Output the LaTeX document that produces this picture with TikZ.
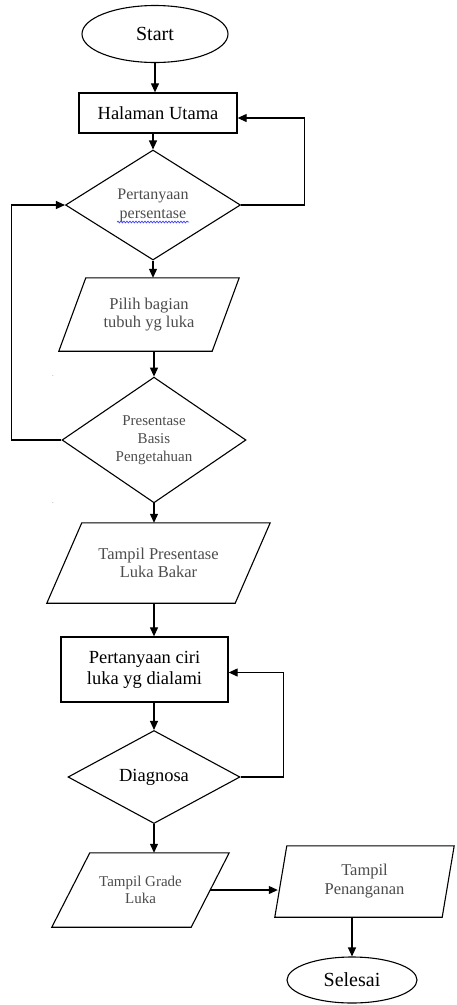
\documentclass[tikz,border=0pt]{standalone}
\usepackage{fontspec}
\setmainfont{Liberation Serif}
\usepackage{tikz}
\usetikzlibrary{shapes.geometric,arrows.meta,calc,decorations.pathmorphing}

% slanted outline round an io node: node name, half slant
\newcommand{\ioshape}[2]{%
  \draw[ioline] ([xshift=#2]#1.north west) -- ([xshift=#2]#1.north east)
    -- ([xshift=-#2]#1.south east) -- ([xshift=-#2]#1.south west) -- cycle;}

\begin{document}
\begin{tikzpicture}[
    x=1pt, y=-1pt,
    terminal/.style={ellipse, draw=black, line width=1.1pt, inner sep=0pt, font=\fontsize{20}{22}\selectfont},
    procbox/.style={rectangle, draw=black, line width=1.3pt, align=center, inner sep=0pt, font=\fontsize{18.5}{21}\selectfont},
    decision/.style={diamond, draw=black, line width=1.1pt, align=center, inner sep=0pt, font=\fontsize{15}{18}\selectfont, text=black!70},
    iobox/.style={rectangle, align=center, inner sep=0pt, font=\fontsize{16}{18}\selectfont, text=black!70},
    ioline/.style={draw=black, line width=1.1pt},
    arr/.style={-{Triangle[length=9pt, width=8pt]}, line width=1.1pt},
  ]
    \useasboundingbox (0,0) rectangle (456,1005);

    % --- main column ---
    \node[terminal, minimum width=146pt, minimum height=57pt] (start) at (155,34) {Start};
    \node[procbox, minimum width=158pt, minimum height=40pt] (halaman) at (158,113) {Halaman Utama};
    \node[decision, minimum width=175pt, minimum height=110pt, font=\fontsize{16}{19}\selectfont] (d1) at (153,205) {Pertanyaan\\persentase};
    \node[iobox, minimum width=153pt, minimum height=73pt, font=\fontsize{16.5}{18}\selectfont] (pilih) at (149,314.5) {Pilih bagian\\tubuh yg luka};
    \node[decision, minimum width=184pt, minimum height=125pt] (d2) at (154,440) {Presentase\\Basis\\Pengetahuan};
    \node[iobox, minimum width=188pt, minimum height=80pt, font=\fontsize{16.5}{18}\selectfont] (tampilpres) at (158.5,563) {Tampil Presentase\\Luka Bakar};
    \node[procbox, minimum width=167pt, minimum height=65pt] (ciri) at (144.5,669.5) {Pertanyaan ciri\\luka yg dialami};
    \node[decision, minimum width=172pt, minimum height=93pt, font=\fontsize{18.5}{21}\selectfont, text=black] (d3) at (154,777) {Diagnosa};
    \node[iobox, minimum width=139pt, minimum height=74pt, font=\fontsize{15}{17}\selectfont] (grade) at (140.5,890) {Tampil Grade\\Luka};

    % --- right branch ---
    \node[iobox, minimum width=167pt, minimum height=71pt, font=\fontsize{16.5}{19}\selectfont] (penanganan) at (364.5,881.5) {Tampil\\Penanganan};
    \node[terminal, minimum width=130pt, minimum height=46pt] (selesai) at (352,980) {Selesai};

    \ioshape{pilih}{13.5pt}
    \ioshape{tampilpres}{17.5pt}
    \ioshape{grade}{19pt}
    \ioshape{penanganan}{6pt}

    % stray dots
    \node[font=\tiny] (dotA) at (53,376) {.};
    \node[font=\tiny] (dotB) at (53,503) {.};

    % spell-check underline
    \draw[blue!75, line width=0.7pt, decorate, decoration={snake, amplitude=0.9pt, segment length=3pt}]
      ($(d1)+(-36,17)$) -- ($(d1)+(36,17)$);

    % --- arrows ---
    \draw[arr] (start) -- (start |- halaman.north);
    \draw[arr] (d1.north |- halaman.south) -- (d1.north);
    \draw[arr] (d1.south) -- (d1.south |- pilih.north);
    \draw[arr] (d2.north |- pilih.south) -- (d2.north);
    \draw[arr] (d2.south) -- (d2.south |- tampilpres.north);
    \draw[arr] (d2.south |- tampilpres.south) -- (d2.south |- ciri.north);
    \draw[arr] (d3.north |- ciri.south) -- (d3.north);
    \draw[arr] (d3.south) -- (d3.south |- grade.north);
    \draw[arr] (grade.east) -- ([xshift=-3pt]grade.east -| penanganan.west);
    \draw[arr] (selesai.north |- penanganan.south) -- (selesai.north);

    % Feedback loops
    \draw[arr] (d1.east) -- ++(63,0) |- ([yshift=-5pt]halaman.east);
    \draw[arr] (d2.west) -- ++(-50,0) |- (d1.west);
    \draw[arr] (d3.east) -- ++(43,0) |- ([yshift=-3pt]ciri.east);

  \end{tikzpicture}
\end{document}
